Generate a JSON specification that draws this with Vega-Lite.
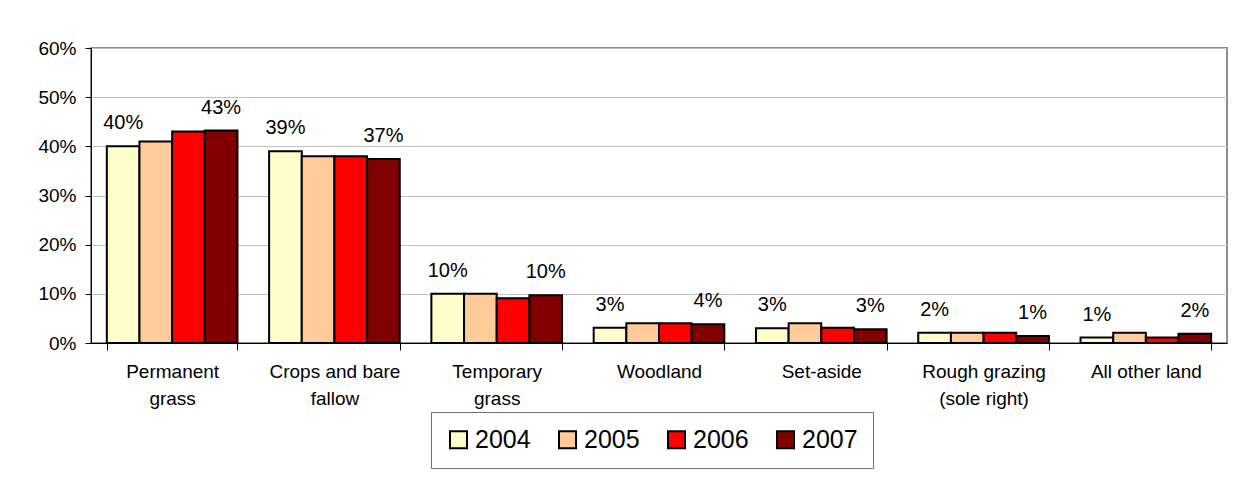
{
  "$schema": "https://vega.github.io/schema/vega-lite/v6.json",
  "width": 1136,
  "height": 295,
  "autosize": {"type": "none"},
  "padding": {"left": 91, "top": 48, "right": 16, "bottom": 136},
  "background": "white",
  "config": {
    "font": "Liberation Sans",
    "view": {"stroke": "#8c8c8c", "strokeWidth": 2}
  },
  "data": {
    "values": [
      {"category": "Permanent grass", "year": "2004", "value": 0.40},
      {"category": "Permanent grass", "year": "2005", "value": 0.41},
      {"category": "Permanent grass", "year": "2006", "value": 0.430},
      {"category": "Permanent grass", "year": "2007", "value": 0.432},
      {"category": "Crops and bare fallow", "year": "2004", "value": 0.390},
      {"category": "Crops and bare fallow", "year": "2005", "value": 0.380},
      {"category": "Crops and bare fallow", "year": "2006", "value": 0.380},
      {"category": "Crops and bare fallow", "year": "2007", "value": 0.374},
      {"category": "Temporary grass", "year": "2004", "value": 0.100},
      {"category": "Temporary grass", "year": "2005", "value": 0.100},
      {"category": "Temporary grass", "year": "2006", "value": 0.091},
      {"category": "Temporary grass", "year": "2007", "value": 0.097},
      {"category": "Woodland", "year": "2004", "value": 0.031},
      {"category": "Woodland", "year": "2005", "value": 0.040},
      {"category": "Woodland", "year": "2006", "value": 0.040},
      {"category": "Woodland", "year": "2007", "value": 0.038},
      {"category": "Set-aside", "year": "2004", "value": 0.030},
      {"category": "Set-aside", "year": "2005", "value": 0.040},
      {"category": "Set-aside", "year": "2006", "value": 0.031},
      {"category": "Set-aside", "year": "2007", "value": 0.028},
      {"category": "Rough grazing (sole right)", "year": "2004", "value": 0.021},
      {"category": "Rough grazing (sole right)", "year": "2005", "value": 0.021},
      {"category": "Rough grazing (sole right)", "year": "2006", "value": 0.021},
      {"category": "Rough grazing (sole right)", "year": "2007", "value": 0.014},
      {"category": "All other land", "year": "2004", "value": 0.011},
      {"category": "All other land", "year": "2005", "value": 0.021},
      {"category": "All other land", "year": "2006", "value": 0.011},
      {"category": "All other land", "year": "2007", "value": 0.019}
    ]
  },
  "encoding": {
    "x": {
      "field": "category",
      "type": "nominal",
      "sort": null,
      "scale": {"paddingInner": 0.195, "paddingOuter": 0.0975},
      "axis": {
        "title": null,
        "labelAngle": 0,
        "labelFontSize": 19,
        "labelColor": "black",
        "labelLimit": 400,
        "labelPadding": 12,
        "labelBaseline": "top",
        "labelLineHeight": 27,
        "tickBand": "extent",
        "tickSize": 7,
        "tickColor": "black",
        "domainColor": "black",
        "grid": false,
        "labelExpr": "datum.label == 'Permanent grass' ? ['Permanent', 'grass'] : datum.label == 'Crops and bare fallow' ? ['Crops and bare', 'fallow'] : datum.label == 'Temporary grass' ? ['Temporary', 'grass'] : datum.label == 'Rough grazing (sole right)' ? ['Rough grazing', '(sole right)'] : datum.label"
      }
    },
    "xOffset": {
      "field": "year",
      "type": "nominal",
      "scale": {"paddingInner": 0, "paddingOuter": 0}
    },
    "y": {
      "field": "value",
      "type": "quantitative",
      "scale": {"domain": [0, 0.6]},
      "axis": {
        "title": null,
        "values": [0, 0.1, 0.2, 0.3, 0.4, 0.5, 0.6],
        "format": ".0%",
        "labelFontSize": 19,
        "labelColor": "black",
        "labelPadding": 9,
        "tickSize": 6,
        "tickColor": "black",
        "domainColor": "black",
        "gridColor": "#c0c0c0",
        "gridWidth": 1
      }
    }
  },
  "layer": [
    {
      "mark": {"type": "bar", "stroke": "black", "strokeWidth": 2},
      "encoding": {
        "color": {
          "field": "year",
          "type": "nominal",
          "scale": {
            "domain": ["2004", "2005", "2006", "2007"],
            "range": ["#FFFFCC", "#FFCC99", "#FF0000", "#800000"]
          },
          "legend": {
            "title": null,
            "orient": "none",
            "legendX": 340,
            "legendY": 364,
            "direction": "horizontal",
            "columns": 4,
            "symbolType": "square",
            "symbolSize": 289,
            "symbolStrokeColor": "black",
            "symbolStrokeWidth": 2,
            "symbolOpacity": 1,
            "labelFontSize": 25,
            "labelColor": "black",
            "labelOffset": 4,
            "columnPadding": 24,
            "padding": 15,
            "strokeColor": "#707070",
            "fillColor": "white"
          }
        }
      }
    },
    {
      "transform": [{"filter": "datum.year == '2004' || datum.year == '2007'"}],
      "mark": {"type": "text", "dy": -17, "baseline": "alphabetic", "fontSize": 20, "color": "black"},
      "encoding": {
        "text": {"field": "value", "type": "quantitative", "format": ".0%"}
      }
    }
  ]
}
